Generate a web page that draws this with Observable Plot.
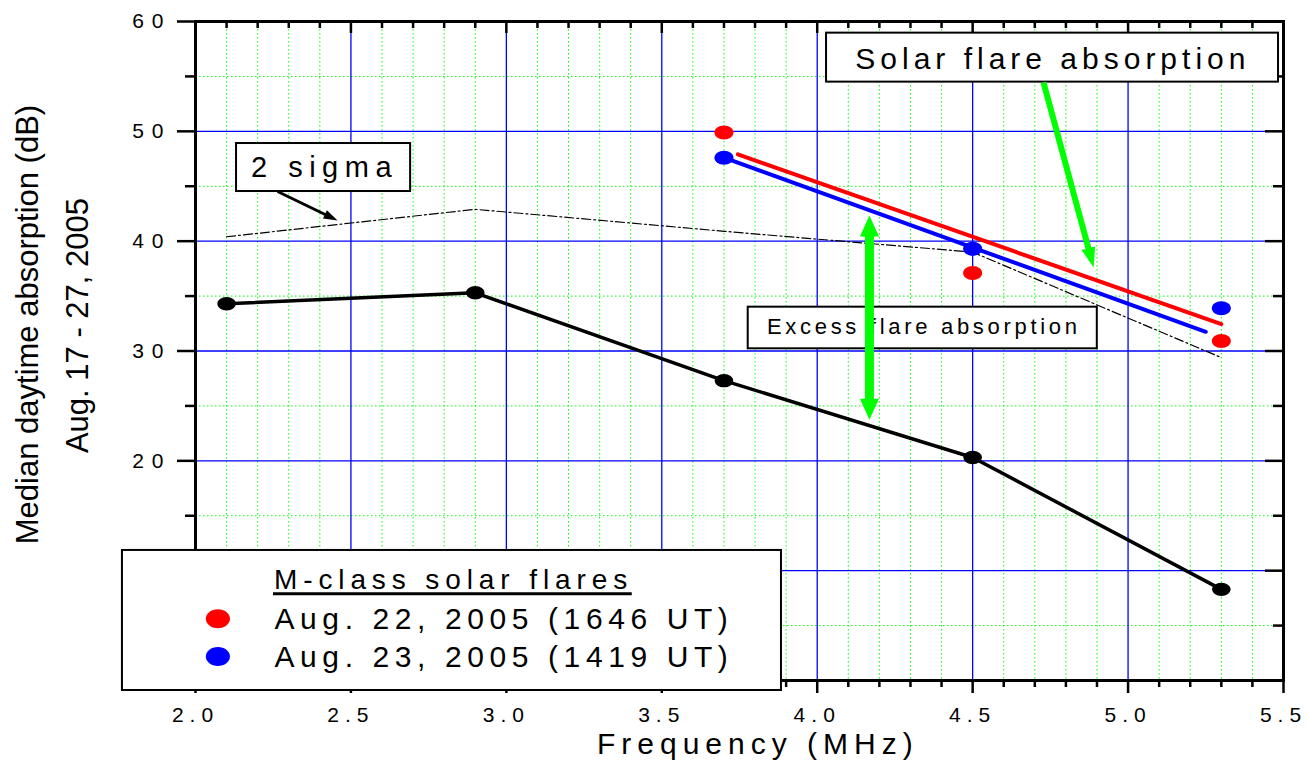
<!DOCTYPE html>
<html><head><meta charset="utf-8">
<script src="https://cdn.jsdelivr.net/npm/d3@7"></script>
<script src="https://cdn.jsdelivr.net/npm/@observablehq/plot@0.6"></script>
<style>html,body{margin:0;padding:0;background:#fff;} svg{display:block}</style>
</head><body><div id="chart"></div>
<script>
// ---------- data ----------
const freqs = [2.1, 2.9, 3.7, 4.5, 5.3];
const medianAbsorption = [34.3, 35.3, 27.3, 20.3, 8.3];
const twoSigma = [40.4, 42.9, 40.9, 39.0, 29.4];
const flareFreqs = [3.7, 4.5, 5.3];
const flareAug22 = [49.9, 37.1, 30.9];
const flareAug23 = [47.6, 39.3, 33.9];
const fitFreqsAug22 = [3.745, 5.3];
const fitAug22 = [47.9, 32.45];
const fitFreqsAug23 = [3.7, 5.25];
const fitAug23 = [47.6, 31.75];
const xTicks = [2.0, 2.5, 3.0, 3.5, 4.0, 4.5, 5.0, 5.5];
const yTicks = [0, 10, 20, 30, 40, 50, 60];
const yMinor = [5, 15, 25, 35, 45, 55];
const xMinor = d3.range(20, 56).filter(i => i % 5 !== 0).map(i => i / 10);
const legendTitle = "M-class solar flares";
const legendLabels = ["Aug. 22, 2005 (1646 UT)", "Aug. 23, 2005 (1419 UT)"];
const xTitle = "Frequency (MHz)";
const yTitles = ["Median daytime absorption (dB)", "Aug. 17 - 27, 2005"];
const noteSigma = "2 sigma";
const noteSolar = "Solar flare absorption";
const noteExcess = "Excess flare absorption";

// ---------- layout ----------
const W = 1308, H = 762, mL = 195, mR = 25, mT = 21, mB = 82;
const FW = W - mL - mR, FH = H - mT - mB;
const RED = "#ff0000", BLUE = "#0000ff", GREEN = "#00ff00";
const FONT = "'Liberation Sans', Arial, Helvetica, sans-serif";

const pts = (xs, ys) => xs.map((x, i) => ({x, y: ys[i]}));

function ellipse(aspect) {
  return {draw(ctx, size) {
    const ry = Math.sqrt(size / Math.PI), rx = ry * aspect, k = 0.5523;
    ctx.moveTo(rx, 0);
    ctx.bezierCurveTo(rx, k * ry, k * rx, ry, 0, ry);
    ctx.bezierCurveTo(-k * rx, ry, -rx, k * ry, -rx, 0);
    ctx.bezierCurveTo(-rx, -k * ry, -k * rx, -ry, 0, -ry);
    ctx.bezierCurveTo(k * rx, -ry, rx, -k * ry, rx, 0);
    ctx.closePath();
  }};
}
function head(len, w) {
  return {draw(ctx) { ctx.moveTo(0, 0); ctx.lineTo(w / 2, len); ctx.lineTo(-w / 2, len); ctx.closePath(); }};
}

// annotation placement (data units)
const boxes = [
  {x1: 2.132, x2: 2.692, y1: 44.52, y2: 48.89},
  {x1: 4.030, x2: 5.484, y1: 54.48, y2: 58.94},
  {x1: 3.778, x2: 4.901, y1: 30.20, y2: 33.99}
];
const legendBox = [{x1: 1.765, x2: 3.885, y1: -0.91, y2: 11.84}];

const chart = Plot.plot({
  width: W, height: H,
  marginLeft: mL, marginRight: mR, marginTop: mT, marginBottom: mB,
  x: {domain: [2.0, 5.5], label: null},
  y: {domain: [0, 60], label: null},
  style: {fontFamily: FONT, background: "white", color: "black", overflow: "visible"},
  marks: [
    // grids
    Plot.gridX(xMinor, {stroke: GREEN, strokeOpacity: 1, strokeWidth: 1, strokeDasharray: "1.5,2.5"}),
    Plot.gridY(yMinor, {stroke: GREEN, strokeOpacity: 1, strokeWidth: 1, strokeDasharray: "1.5,2.5"}),
    Plot.gridX(xTicks.slice(1, -1), {stroke: BLUE, strokeOpacity: 1, strokeWidth: 1.3}),
    Plot.gridY(yTicks.slice(1, -1), {stroke: BLUE, strokeOpacity: 1, strokeWidth: 1.3}),
    // axes
    Plot.axisX(xTicks, {label: null, tickSize: 13, tickPadding: 14, fontSize: 21, strokeWidth: 2.5, tickFormat: d => d.toFixed(1)}),
    Plot.axisX(xMinor, {label: null, tickSize: 7, strokeWidth: 2.5, tickFormat: () => ""}),
    Plot.axisY(yTicks, {label: null, tickSize: 18, tickPadding: 6, fontSize: 21, strokeWidth: 2.5}),
    Plot.axisY(yMinor, {label: null, tickSize: 10, strokeWidth: 2.5, tickFormat: () => ""}),
    Plot.ruleX(xTicks, {insetBottom: FH - 12, strokeWidth: 2.5}),
    Plot.ruleX(xMinor, {insetBottom: FH - 7, strokeWidth: 2.5}),
    Plot.ruleY(yTicks, {insetLeft: FW - 18, strokeWidth: 2.5}),
    Plot.ruleY(yMinor, {insetLeft: FW - 10, strokeWidth: 2.5}),
    Plot.frame({stroke: "black", strokeWidth: 3}),
    // series
    Plot.line(pts(freqs, twoSigma), {x: "x", y: "y", stroke: "black", strokeWidth: 1.2, strokeDasharray: "9,3,2,3"}),
    Plot.line(pts(freqs, medianAbsorption), {x: "x", y: "y", stroke: "black", strokeWidth: 3.5}),
    Plot.line(pts(fitFreqsAug22, fitAug22), {x: "x", y: "y", stroke: RED, strokeWidth: 4}),
    Plot.line(pts(fitFreqsAug23, fitAug23), {x: "x", y: "y", stroke: BLUE, strokeWidth: 4}),
    Plot.dot(pts(freqs, medianAbsorption), {x: "x", y: "y", symbol: ellipse(1.38), r: 6.7, fill: "black", stroke: "none"}),
    Plot.dot(pts(flareFreqs, flareAug22), {x: "x", y: "y", symbol: ellipse(1.36), r: 7, fill: RED, stroke: "none"}),
    Plot.dot(pts(flareFreqs, flareAug23), {x: "x", y: "y", symbol: ellipse(1.36), r: 7, fill: BLUE, stroke: "none"}),
    // annotation boxes
    Plot.rect(boxes, {x1: "x1", x2: "x2", y1: "y1", y2: "y2", fill: "white", stroke: "black", strokeWidth: 2}),
    Plot.text([noteSigma], {x: 2.415, y: 46.67, text: d => d, fontSize: 29}),
    Plot.text([noteSolar], {x: 4.758, y: 56.57, text: d => d, fontSize: 30}),
    Plot.text([noteExcess], {x: 4.343, y: 32.20, text: d => d, fontSize: 22}),
    // arrows
    Plot.link([0], {x1: 2.264, y1: 44.52, x2: 2.422, y2: 42.36, stroke: "black", strokeWidth: 3}),
    Plot.dot([0], {x: 2.457, y: 41.88, symbol: head(14, 9), rotate: 116, fill: "black", stroke: "none"}),
    Plot.link([0], {x1: 4.728, y1: 54.45, x2: 4.875, y2: 39.10, stroke: GREEN, strokeWidth: 6}),
    Plot.dot([0], {x: 4.889, y: 37.60, symbol: head(20, 14), rotate: 165, fill: GREEN, stroke: "none"}),
    Plot.link([0], {x1: 4.168, y1: 40.61, x2: 4.168, y2: 25.47, stroke: GREEN, strokeWidth: 9}),
    Plot.dot([0], {x: 4.168, y: 42.34, symbol: head(21, 19), rotate: 0, fill: GREEN, stroke: "none"}),
    Plot.dot([0], {x: 4.168, y: 23.74, symbol: head(21, 19), rotate: 180, fill: GREEN, stroke: "none"}),
    // legend
    Plot.rect(legendBox, {x1: "x1", x2: "x2", y1: "y1", y2: "y2", fill: "white", stroke: "black", strokeWidth: 2}),
    Plot.text([legendTitle], {x: 2.830, y: 9.17, text: d => d, fontSize: 28}),
    Plot.ruleY([7.89], {x1: 2.251, x2: 3.405, stroke: "black", strokeWidth: 3}),
    Plot.dot(legendLabels, {x: 2.072, y: (d, i) => [5.62, 2.19][i], symbol: ellipse(1.27), r: 9.5, fill: [RED, BLUE], stroke: "none"}),
    Plot.text(legendLabels, {x: 2.254, y: (d, i) => [5.58, 2.09][i], text: d => d, fontSize: 30, textAnchor: "start"}),
    // axis titles
    Plot.text([xTitle], {x: 3.809, y: -5.80, text: d => d, fontSize: 30}),
    Plot.text([yTitles[0]], {x: 1.460, y: 32.41, text: d => d, fontSize: 31, rotate: -90}),
    Plot.text([yTitles[1]], {x: 1.621, y: 32.32, text: d => d, fontSize: 31, rotate: -90})
  ]
});

// letter spacing of the reference's widely tracked labels
const spacingByText = new Map([
  [noteSigma, 6.5], [noteSolar, 5], [noteExcess, 3.7],
  [legendTitle, 5.9], [legendLabels[0], 5.6], [legendLabels[1], 5.6], [xTitle, 6]
]);
d3.select(chart).selectAll("text").each(function() {
  const t = this.textContent;
  if (spacingByText.has(t)) this.setAttribute("letter-spacing", spacingByText.get(t));
});
d3.select(chart).selectAll('g[aria-label="x-axis tick label"] text').attr("letter-spacing", 6);
d3.select(chart).selectAll('g[aria-label="y-axis tick label"] text').attr("letter-spacing", 8);
document.getElementById("chart").appendChild(chart);
</script>
</body></html>
